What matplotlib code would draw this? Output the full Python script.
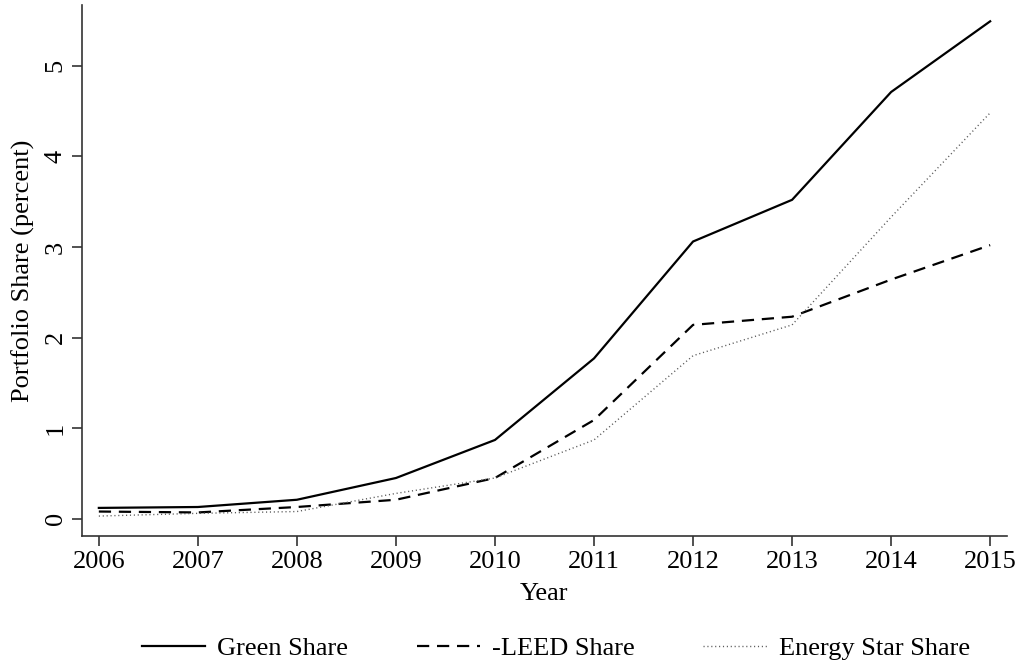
import matplotlib
matplotlib.use("Agg")
import matplotlib.pyplot as plt

years = [2006, 2007, 2008, 2009, 2010, 2011, 2012, 2013, 2014, 2015]
green_share = [0.12, 0.13, 0.21, 0.45, 0.87, 1.77, 3.06, 3.52, 4.71, 5.49]
leed_share = [0.08, 0.07, 0.13, 0.21, 0.45, 1.09, 2.14, 2.23, 2.64, 3.02]
energy_star_share = [0.03, 0.06, 0.08, 0.28, 0.45, 0.87, 1.80, 2.14, 3.33, 4.48]

plt.rcParams["font.family"] = ["Liberation Serif", "DejaVu Serif"]
FS = 19

fig = plt.figure(figsize=(10.22, 6.69), dpi=100)
ax = fig.add_axes([82 / 1022, 1 - 536 / 669, (1007 - 82) / 1022, (536 - 5) / 669])

ax.plot(years, green_share, color="black", lw=1.6, ls="-", label="Green Share")
ax.plot(years, leed_share, color="black", lw=1.6, ls=(0, (5.5, 3.5)), label="-LEED Share")
ax.plot(years, energy_star_share, color="0.35", lw=1.0, ls=(0, (0.8, 2.0)),
        label="Energy Star Share")

ax.set_xlim(2005.83, 2015.17)
ax.set_ylim(-0.19, 5.67)
ax.set_xticks(years)
ax.set_yticks([0, 1, 2, 3, 4, 5])
for lab in ax.get_yticklabels():
    lab.set_rotation(90)
    lab.set_va("center")
ax.tick_params(direction="out", length=7, width=1.2, color="0.2", labelsize=FS, pad=4)
ax.spines["top"].set_visible(False)
ax.spines["right"].set_visible(False)
for s in ("left", "bottom"):
    ax.spines[s].set_linewidth(1.2)
    ax.spines[s].set_color("0.2")

ax.set_xlabel("Year", fontsize=FS, labelpad=7)
ax.set_ylabel("Portfolio Share (percent)", fontsize=FS, labelpad=7)

fig.legend(loc="center", bbox_to_anchor=(0.544, 0.031), ncol=3, frameon=False,
           fontsize=FS, handlelength=2.4, handletextpad=0.45, columnspacing=2.6,
           borderpad=0)

fig.savefig("out.png", dpi=100)
